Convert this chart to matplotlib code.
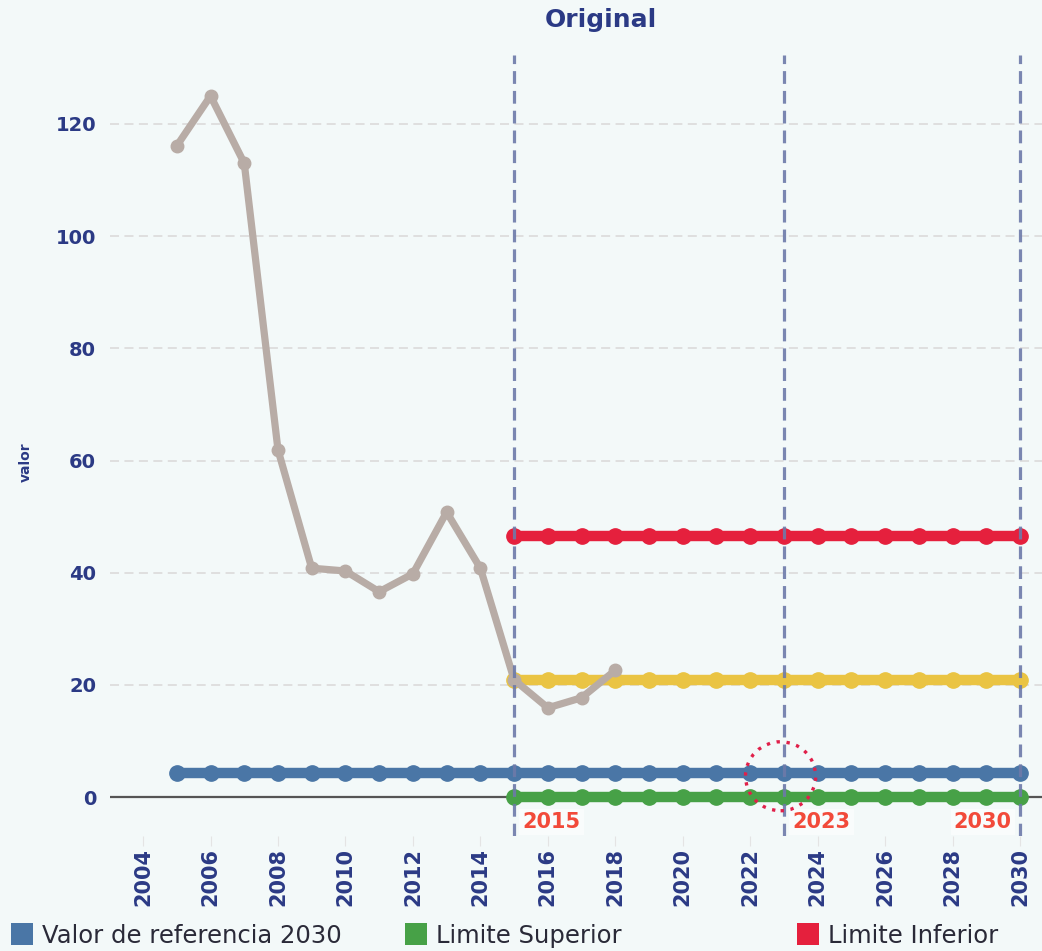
import matplotlib
matplotlib.use("Agg")
import matplotlib.pyplot as plt
from matplotlib.patches import Ellipse, Rectangle

# datos
anios_hist = [2005, 2006, 2007, 2008, 2009, 2010, 2011, 2012, 2013, 2014, 2015, 2016, 2017, 2018]
valor_hist = [116.1, 125.0, 113.0, 61.9, 40.8, 40.3, 36.6, 39.8, 50.8, 40.8, 20.9, 15.9, 17.7, 22.6]

anios_ref = list(range(2005, 2031))
valor_ref = 4.3            # Valor de referencia 2030

anios_meta = list(range(2015, 2031))
lim_superior = 0.0
lim_inferior = 46.5
meta_media = 20.9

hitos = [2015, 2023, 2030]
xticks = list(range(2004, 2031, 2))
yticks = [0, 20, 40, 60, 80, 100, 120]

bg = "#f3f9f9"
navy = "#2b3a85"
c_ref = "#4a76a6"
c_sup = "#47a147"
c_inf = "#e5203d"
c_med = "#eac443"
c_hist = "#b8aca6"
c_vline = "#6d7aa9"
c_hito = "#f24a3a"

fig = plt.figure(figsize=(10.42, 9.51), dpi=100, facecolor=bg)
ax = fig.add_axes([110/1042, (951-836)/951, (1042-110)/1042, (836-55)/951])
ax.set_facecolor(bg)

ax.set_xlim(2003.02, 2030.65)
ax.set_ylim(-6.95, 132.3)

for y in yticks[1:]:
    ax.axhline(y, color="#dddddd", lw=1.3, dashes=(5, 3), zorder=1)
ax.axhline(0, color="#555555", lw=1.6, zorder=2)

ax.plot(anios_ref, [valor_ref]*len(anios_ref), color=c_ref, lw=7.5, marker="o", ms=11, zorder=3)
ax.plot(anios_meta, [lim_superior]*len(anios_meta), color=c_sup, lw=7.5, marker="o", ms=11, zorder=3)
ax.plot(anios_meta, [meta_media]*len(anios_meta), color=c_med, lw=7.5, marker="o", ms=11, zorder=3)
ax.plot(anios_meta, [lim_inferior]*len(anios_meta), color=c_inf, lw=7.5, marker="o", ms=11, zorder=3)
ax.plot(anios_hist, valor_hist, color=c_hist, lw=5.2, marker="o", ms=9, zorder=4)

for h in hitos:
    ax.axvline(h, color=c_vline, lw=2.3, dashes=(4, 2.2), alpha=0.9, zorder=5)

lab_y = -4.46
box = dict(boxstyle="square,pad=0.15", fc="white", ec="none", alpha=0.55)
ax.text(2015.25, lab_y, "2015", color=c_hito, fontsize=15, fontweight="bold", va="center", ha="left", bbox=box, zorder=6)
ax.text(2023.25, lab_y, "2023", color=c_hito, fontsize=15, fontweight="bold", va="center", ha="left", bbox=box, zorder=6)
ax.text(2029.75, lab_y, "2030", color=c_hito, fontsize=15, fontweight="bold", va="center", ha="right", bbox=box, zorder=6)

circ = Ellipse((2022.9, 3.7), 2.08, 12.3, fill=False, ec="#e0204a", lw=2.4, ls=(0, (1, 2)), zorder=7)
ax.add_patch(circ)

for s in ax.spines.values():
    s.set_visible(False)
ax.set_xticks(xticks)
ax.set_xticklabels([str(x) for x in xticks], rotation=90, fontsize=15, fontweight="bold", color=navy)
ax.set_yticks(yticks)
ax.set_yticklabels([str(y) for y in yticks], fontsize=14, fontweight="bold", color=navy)
ax.tick_params(axis="x", length=7, color="#e4e4e4", pad=2)
ax.tick_params(axis="y", length=0, pad=10)
ax.set_ylabel("valor", fontsize=10, fontweight="bold", color=navy)
ax.yaxis.set_label_coords((33 - 110) / 932, (836 - 462) / 781)

fig.text(601/1042, 1 - 20/951, "Original", ha="center", va="center", fontsize=18, fontweight="bold", color=navy)

# leyenda
leyenda = [("Valor de referencia 2030", c_ref, 11), ("Limite Superior", c_sup, 405), ("Limite Inferior", c_inf, 797)]
for txt, col, x0 in leyenda:
    fig.patches.append(Rectangle((x0/1042, (951-945)/951), 22/1042, 22/951, transform=fig.transFigure, fc=col, ec="none"))
    fig.text((x0+31)/1042, 1 - 936/951, txt, ha="left", va="center", fontsize=17.5, color="#2a2a38")

fig.savefig("out.png", dpi=100, facecolor=bg)
